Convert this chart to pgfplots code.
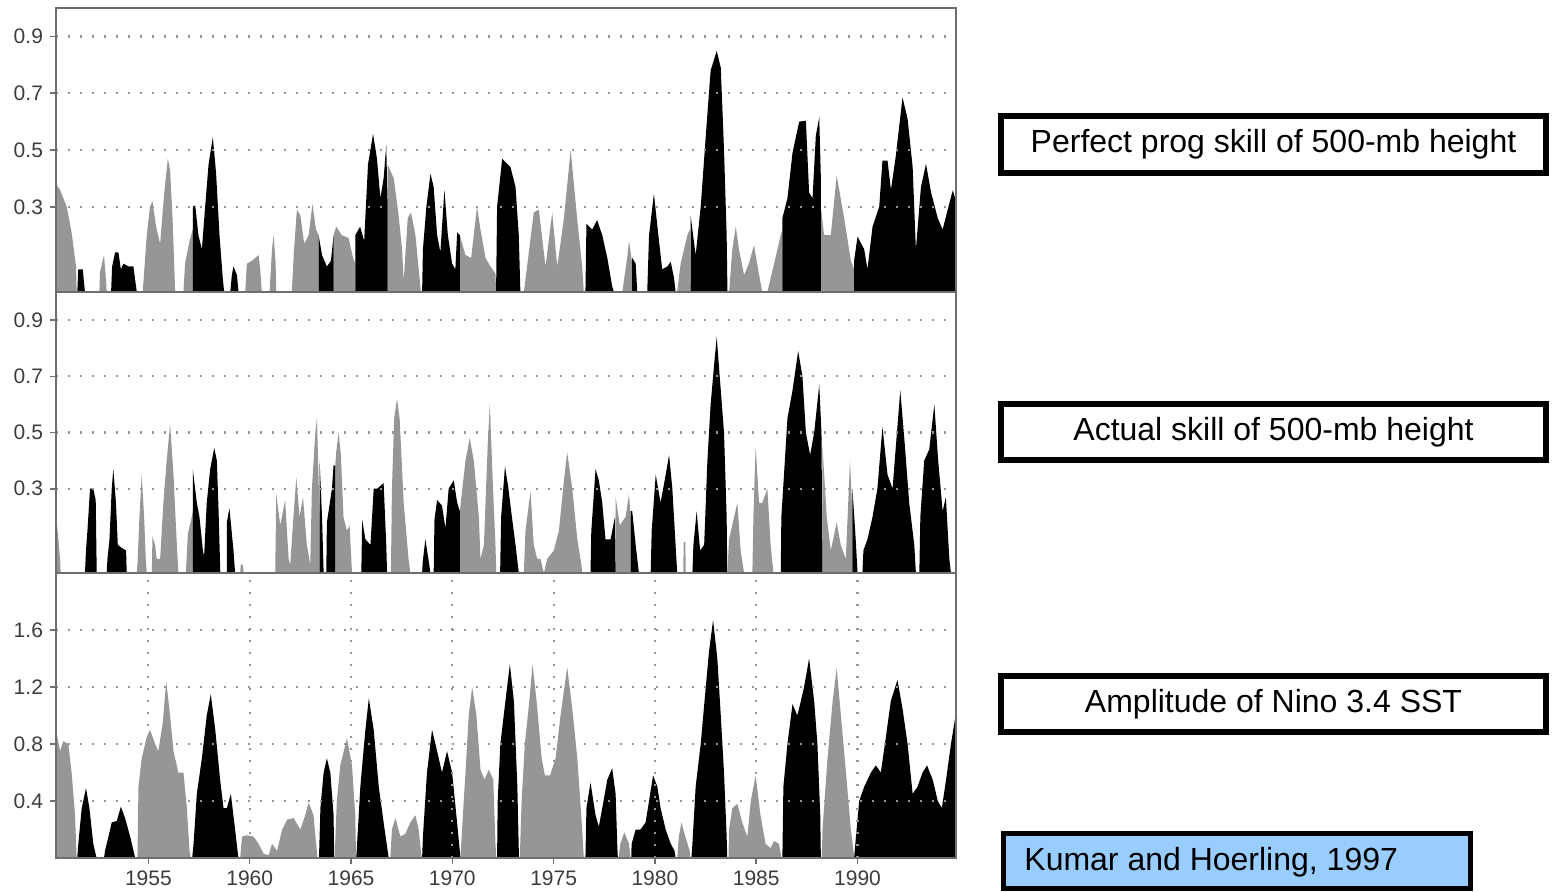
\documentclass[border=0pt]{standalone}
\usepackage{pgfplots}
\pgfplotsset{compat=1.18}
\usepackage{fontspec}
\setmainfont{Liberation Sans}
\definecolor{gm}{RGB}{150,150,150}
\definecolor{axc}{RGB}{110,110,110}
\definecolor{gridc}{RGB}{150,150,150}
\definecolor{tlc}{RGB}{60,60,60}
\definecolor{boxblue}{RGB}{153,204,255}
\pgfplotsset{
  panel/.style={
    scale only axis, width=450pt,
    xmin=1950.44, xmax=1994.86, ymin=0,
    axis on top=true,
    axis line style={draw=axc, line width=1pt},
    tick style={draw=axc, line width=0.8pt},
    tick align=outside, major tick length=3pt,
    ytick pos=left, xtick pos=bottom,
    ymajorgrids,
    grid style={draw=gridc, line width=1.1pt, dash pattern=on 1.1pt off 4.9pt},
    ticklabel style={font=\fontsize{10.5}{12}\selectfont, text=tlc},
    /pgf/number format/assume math mode=true,
  },
  top panel/.style={panel, xtick=\empty, ymax=1.0,
    ytick={0.3,0.5,0.7,0.9}, yticklabels={0.3,0.5,0.7,0.9}},
  gfill/.style={draw=none, fill=gm},
  bfill/.style={draw=none, fill=black},
}
\begin{document}
\begin{tikzpicture}
\path[use as bounding box] (0,0) rectangle (776pt,-445.5pt);

% ---------------- Top panel: perfect prog skill ----------------
\begin{axis}[top panel, at={(28pt,-146pt)}, anchor=south west, height=142pt]
\addplot[gfill] coordinates {
(1950.44,0.38)(1950.64,0.36)(1950.97,0.30)(1951.21,0.21)(1951.43,0.09)(1951.46,0)
(1952.58,0)(1952.61,0.07)(1952.81,0.13)(1952.91,0.04)(1952.94,0)
(1954.72,0)(1954.92,0.20)(1955.08,0.30)(1955.20,0.32)(1955.38,0.23)(1955.58,0.17)(1955.77,0.34)(1955.96,0.47)(1956.07,0.43)(1956.20,0.25)(1956.32,0)
(1956.73,0)(1956.81,0.10)(1957.03,0.18)(1957.19,0.22)(1957.19,0)
(1959.78,0)(1959.86,0.10)(1960.11,0.11)(1960.44,0.13)(1960.52,0.08)(1960.60,0)
(1960.98,0)(1961.10,0.15)(1961.18,0.20)(1961.28,0.10)(1961.31,0)
(1962.08,0)(1962.17,0.13)(1962.33,0.29)(1962.50,0.27)(1962.69,0.17)(1962.91,0.20)(1963.10,0.31)(1963.27,0.22)(1963.40,0.20)(1963.40,0)
(1964.14,0)(1964.14,0.20)(1964.27,0.23)(1964.55,0.20)(1964.88,0.19)(1965.10,0.12)(1965.21,0.10)(1965.21,0)
(1966.81,0)(1966.81,0.45)(1966.86,0.44)(1967.11,0.40)(1967.35,0.27)(1967.52,0.15)(1967.60,0.04)(1967.80,0.26)(1967.96,0.28)(1968.18,0.20)(1968.34,0.08)(1968.45,0)
(1970.37,0)(1970.37,0.20)(1970.65,0.13)(1970.93,0.12)(1971.22,0.30)(1971.39,0.22)(1971.64,0.12)(1971.88,0.09)(1972.13,0.065)(1972.16,0)
(1973.53,0)(1973.69,0.09)(1974.02,0.28)(1974.27,0.29)(1974.60,0.09)(1974.93,0.28)(1975.18,0.09)(1975.51,0.26)(1975.84,0.50)(1976.16,0.26)(1976.41,0.09)(1976.49,0)
(1978.39,0)(1978.63,0.12)(1978.72,0.18)(1978.88,0.10)(1978.88,0)
(1981.10,0)(1981.27,0.10)(1981.60,0.20)(1981.73,0.22)(1981.76,0)
(1983.66,0)(1983.82,0.15)(1983.99,0.23)(1984.15,0.15)(1984.40,0.06)(1984.64,0.10)(1984.89,0.165)(1985.14,0.06)(1985.30,0)
(1985.55,0)(1985.88,0.10)(1986.21,0.20)(1986.29,0.22)(1986.29,0)
(1988.19,0)(1988.19,0.30)(1988.35,0.20)(1988.68,0.20)(1988.97,0.41)(1989.34,0.26)(1989.67,0.11)(1989.83,0.08)(1989.83,0)
} \closedcycle;
\addplot[bfill] coordinates {
(1951.49,0)(1951.54,0.08)(1951.76,0.08)(1951.87,0)
(1953.16,0)(1953.21,0.09)(1953.36,0.14)(1953.52,0.14)(1953.64,0.08)(1953.77,0.10)(1954.01,0.09)(1954.26,0.09)(1954.39,0.02)(1954.43,0)
(1957.19,0)(1957.19,0.30)(1957.31,0.305)(1957.47,0.20)(1957.64,0.15)(1957.80,0.30)(1957.97,0.45)(1958.18,0.545)(1958.34,0.42)(1958.51,0.20)(1958.67,0.05)(1958.74,0)
(1959.04,0)(1959.12,0.06)(1959.20,0.09)(1959.37,0.06)(1959.45,0)
(1963.40,0)(1963.40,0.20)(1963.57,0.13)(1963.81,0.09)(1964.01,0.11)(1964.14,0.20)(1964.14,0)
(1965.21,0)(1965.21,0.20)(1965.45,0.23)(1965.65,0.18)(1965.84,0.45)(1966.09,0.557)(1966.28,0.47)(1966.45,0.33)(1966.61,0.40)(1966.74,0.516)(1966.81,0.30)(1966.81,0)
(1968.51,0)(1968.55,0.15)(1968.72,0.30)(1968.92,0.416)(1969.08,0.37)(1969.25,0.20)(1969.41,0.14)(1969.61,0.36)(1969.78,0.20)(1969.99,0.10)(1970.15,0.08)(1970.24,0.21)(1970.37,0.20)(1970.37,0)
(1972.16,0)(1972.21,0.30)(1972.46,0.469)(1972.87,0.44)(1973.12,0.37)(1973.28,0.20)(1973.36,0)
(1976.57,0)(1976.62,0.24)(1976.90,0.22)(1977.15,0.253)(1977.40,0.20)(1977.65,0.12)(1977.89,0.02)(1977.98,0)
(1978.88,0)(1978.88,0.12)(1979.05,0.10)(1979.13,0)
(1979.62,0)(1979.71,0.20)(1979.95,0.346)(1980.20,0.18)(1980.36,0.08)(1980.61,0.09)(1980.78,0.106)(1980.94,0.05)(1981.02,0)
(1981.76,0)(1981.76,0.27)(1982.01,0.13)(1982.26,0.30)(1982.51,0.55)(1982.75,0.78)(1983.05,0.849)(1983.25,0.79)(1983.41,0.50)(1983.54,0.20)(1983.58,0)
(1986.29,0)(1986.29,0.26)(1986.54,0.33)(1986.79,0.49)(1987.12,0.60)(1987.45,0.603)(1987.61,0.35)(1987.78,0.33)(1987.94,0.55)(1988.11,0.615)(1988.19,0.40)(1988.19,0)
(1989.83,0)(1989.83,0.11)(1990.00,0.195)(1990.33,0.15)(1990.49,0.08)(1990.74,0.23)(1991.07,0.30)(1991.23,0.463)(1991.48,0.463)(1991.65,0.36)(1991.89,0.48)(1992.22,0.685)(1992.47,0.61)(1992.72,0.44)(1992.88,0.15)(1993.13,0.37)(1993.38,0.451)(1993.63,0.35)(1993.96,0.26)(1994.20,0.22)(1994.45,0.29)(1994.70,0.358)(1994.86,0.32)
} \closedcycle;
\end{axis}

% ---------------- Middle panel: actual skill ----------------
\begin{axis}[top panel, at={(28pt,-286.5pt)}, anchor=south west, height=140.5pt]
\addplot[gfill] coordinates {
(1950.44,0.21)(1950.56,0.12)(1950.64,0.05)(1950.67,0)
(1954.42,0)(1954.46,0.03)(1954.56,0.20)(1954.67,0.35)(1954.79,0.20)(1954.87,0.05)(1954.92,0)
(1955.17,0)(1955.20,0.13)(1955.33,0.10)(1955.41,0.05)(1955.58,0.05)(1955.74,0.25)(1955.88,0.38)(1956.07,0.53)(1956.24,0.35)(1956.37,0.15)(1956.48,0)
(1956.85,0)(1956.95,0.14)(1957.14,0.20)(1957.19,0.22)(1957.19,0)
(1959.53,0)(1959.56,0.03)(1959.66,0.03)(1959.70,0)
(1961.26,0)(1961.31,0.28)(1961.51,0.17)(1961.75,0.26)(1961.92,0.05)(1962.00,0.03)(1962.13,0.17)(1962.30,0.34)(1962.46,0.20)(1962.63,0.27)(1962.82,0.10)(1962.99,0.03)(1963.07,0.30)(1963.24,0.50)(1963.32,0.55)(1963.45,0.20)(1963.45,0)
(1964.22,0)(1964.22,0.38)(1964.27,0.43)(1964.39,0.50)(1964.50,0.42)(1964.63,0.20)(1964.80,0.15)(1964.93,0.17)(1965.05,0)
(1966.97,0)(1967.02,0.30)(1967.13,0.55)(1967.27,0.62)(1967.40,0.55)(1967.60,0.25)(1967.84,0.05)(1967.93,0)
(1970.37,0)(1970.37,0.22)(1970.65,0.40)(1970.86,0.48)(1971.06,0.40)(1971.31,0.20)(1971.39,0.05)(1971.56,0.10)(1971.75,0.46)(1971.85,0.60)(1972.01,0.30)(1972.13,0.10)(1972.17,0)
(1973.53,0)(1973.61,0.15)(1973.86,0.29)(1974.02,0.10)(1974.19,0.05)(1974.35,0.05)(1974.52,0)(1974.68,0.05)(1975.01,0.08)(1975.26,0.15)(1975.51,0.33)(1975.67,0.43)(1975.92,0.30)(1976.17,0.12)(1976.37,0.03)(1976.41,0)
(1978.06,0)(1978.06,0.27)(1978.27,0.17)(1978.55,0.20)(1978.72,0.28)(1978.80,0.20)(1978.80,0)
(1981.40,0)(1981.42,0.11)(1981.50,0.11)(1981.52,0)
(1983.57,0)(1983.66,0.12)(1983.91,0.20)(1984.07,0.25)(1984.23,0.08)(1984.40,0)
(1984.81,0)(1984.86,0.20)(1984.97,0.45)(1985.14,0.25)(1985.30,0.25)(1985.55,0.30)(1985.71,0.10)(1985.85,0)
(1988.27,0)(1988.27,0.45)(1988.48,0.20)(1988.68,0.08)(1988.97,0.18)(1989.17,0.10)(1989.42,0.05)(1989.63,0.40)(1989.75,0.20)(1989.75,0)
} \closedcycle;
\addplot[bfill] coordinates {
(1951.87,0)(1951.92,0.08)(1952.00,0.16)(1952.12,0.30)(1952.28,0.30)(1952.40,0.26)(1952.45,0)
(1952.94,0)(1952.98,0.05)(1953.08,0.12)(1953.19,0.30)(1953.27,0.37)(1953.40,0.25)(1953.49,0.10)(1953.68,0.09)(1953.90,0.08)(1953.93,0)
(1957.19,0)(1957.19,0.37)(1957.39,0.25)(1957.52,0.20)(1957.69,0.08)(1957.75,0.06)(1957.88,0.25)(1958.05,0.37)(1958.25,0.445)(1958.38,0.40)(1958.46,0.23)(1958.55,0)
(1958.87,0)(1958.87,0.18)(1959.00,0.23)(1959.20,0.08)(1959.28,0)
(1963.45,0)(1963.45,0.40)(1963.57,0.20)(1963.65,0)
(1963.78,0)(1963.81,0.18)(1964.06,0.30)(1964.14,0.385)(1964.22,0.38)(1964.22,0)
(1965.51,0)(1965.55,0.19)(1965.71,0.12)(1965.96,0.10)(1966.12,0.30)(1966.29,0.30)(1966.45,0.31)(1966.61,0.32)(1966.74,0.10)(1966.78,0)
(1968.51,0)(1968.54,0.04)(1968.67,0.12)(1968.84,0.04)(1968.92,0)
(1969.08,0)(1969.12,0.19)(1969.25,0.26)(1969.49,0.24)(1969.66,0.16)(1969.82,0.30)(1970.07,0.33)(1970.24,0.25)(1970.37,0.22)(1970.37,0)
(1972.36,0)(1972.41,0.20)(1972.60,0.38)(1972.77,0.30)(1972.94,0.20)(1973.12,0.10)(1973.28,0)
(1976.82,0)(1976.86,0.15)(1977.07,0.37)(1977.23,0.33)(1977.40,0.25)(1977.56,0.12)(1977.81,0.12)(1978.03,0.20)(1978.06,0)
(1978.80,0)(1978.80,0.22)(1978.88,0.22)(1979.05,0.10)(1979.21,0)
(1979.79,0)(1979.84,0.15)(1980.04,0.35)(1980.28,0.25)(1980.53,0.35)(1980.70,0.42)(1980.86,0.30)(1981.02,0.10)(1981.10,0)
(1981.85,0)(1981.90,0.10)(1982.06,0.22)(1982.23,0.08)(1982.43,0.10)(1982.59,0.40)(1982.75,0.60)(1982.92,0.74)(1983.05,0.84)(1983.25,0.65)(1983.41,0.50)(1983.54,0.20)(1983.57,0)
(1986.21,0)(1986.24,0.20)(1986.37,0.35)(1986.54,0.55)(1986.79,0.65)(1987.07,0.79)(1987.28,0.70)(1987.45,0.50)(1987.66,0.42)(1987.86,0.50)(1988.11,0.67)(1988.22,0.50)(1988.27,0)
(1989.75,0)(1989.75,0.30)(1989.91,0.12)(1990.00,0)
(1990.24,0)(1990.29,0.08)(1990.49,0.12)(1990.74,0.20)(1990.98,0.30)(1991.23,0.52)(1991.48,0.35)(1991.73,0.30)(1991.89,0.45)(1992.11,0.65)(1992.34,0.45)(1992.55,0.25)(1992.80,0.10)(1992.88,0)
(1993.05,0)(1993.10,0.20)(1993.29,0.40)(1993.54,0.44)(1993.79,0.60)(1993.98,0.40)(1994.20,0.22)(1994.36,0.27)(1994.53,0.05)(1994.61,0)
} \closedcycle;
\end{axis}

% ---------------- Bottom panel: Nino 3.4 amplitude ----------------
\begin{axis}[panel, at={(28pt,-429pt)}, anchor=south west, height=142.5pt,
  ymax=2.0, ytick={0.4,0.8,1.2,1.6}, yticklabels={0.4,0.8,1.2,1.6},
  xtick={1955,1960,1965,1970,1975,1980,1985,1990},
  xticklabels={1955,1960,1965,1970,1975,1980,1985,1990},
  xmajorgrids]
\addplot[gfill] coordinates {
(1950.44,0.90)(1950.64,0.75)(1950.80,0.82)(1951.05,0.80)(1951.21,0.60)(1951.38,0.30)(1951.46,0)
(1954.46,0)(1954.51,0.50)(1954.67,0.70)(1954.92,0.85)(1955.08,0.90)(1955.33,0.80)(1955.49,0.75)(1955.71,0.95)(1955.88,1.24)(1956.07,1.00)(1956.24,0.75)(1956.48,0.60)(1956.73,0.60)(1956.90,0.35)(1957.03,0.05)(1957.10,0)
(1959.53,0)(1959.62,0.15)(1959.86,0.16)(1960.19,0.15)(1960.44,0.10)(1960.69,0.03)(1960.94,0.02)(1961.10,0.10)(1961.35,0.05)(1961.60,0.20)(1961.85,0.27)(1962.17,0.28)(1962.50,0.20)(1962.74,0.30)(1962.91,0.39)(1963.15,0.30)(1963.28,0.10)(1963.35,0)
(1964.19,0)(1964.30,0.40)(1964.47,0.65)(1964.80,0.84)(1965.05,0.65)(1965.21,0.30)(1965.25,0)
(1966.94,0)(1967.02,0.20)(1967.19,0.28)(1967.44,0.15)(1967.68,0.17)(1967.93,0.25)(1968.18,0.30)(1968.34,0.20)(1968.45,0.05)(1968.49,0)
(1970.40,0)(1970.48,0.20)(1970.65,0.60)(1970.81,1.00)(1970.98,1.20)(1971.19,1.00)(1971.39,0.62)(1971.59,0.55)(1971.80,0.62)(1972.02,0.55)(1972.13,0.10)(1972.17,0)
(1973.33,0)(1973.42,0.40)(1973.58,0.80)(1973.80,1.10)(1973.96,1.36)(1974.16,1.10)(1974.41,0.70)(1974.57,0.58)(1974.82,0.58)(1975.10,0.70)(1975.34,1.00)(1975.67,1.34)(1975.92,1.05)(1976.17,0.70)(1976.41,0.20)(1976.49,0)
(1978.21,0)(1978.29,0.10)(1978.49,0.18)(1978.72,0.10)(1978.80,0)
(1981.10,0)(1981.18,0.15)(1981.31,0.25)(1981.50,0.15)(1981.72,0.05)(1981.75,0)
(1983.63,0)(1983.66,0.20)(1983.82,0.35)(1984.07,0.38)(1984.31,0.25)(1984.56,0.15)(1984.73,0.40)(1984.97,0.58)(1985.21,0.30)(1985.46,0.10)(1985.71,0.07)(1985.88,0.12)(1986.12,0.10)(1986.24,0)
(1988.24,0)(1988.27,0.20)(1988.52,0.70)(1988.77,1.10)(1988.97,1.33)(1989.18,1.00)(1989.43,0.60)(1989.67,0.20)(1989.80,0.05)(1989.83,0)
} \closedcycle;
\addplot[bfill] coordinates {
(1951.49,0)(1951.54,0.10)(1951.71,0.35)(1951.92,0.49)(1952.09,0.35)(1952.28,0.10)(1952.41,0.02)(1952.45,0)
(1952.81,0)(1952.86,0.05)(1953.03,0.15)(1953.19,0.25)(1953.44,0.26)(1953.64,0.36)(1953.85,0.28)(1954.10,0.15)(1954.30,0.03)(1954.35,0)
(1957.16,0)(1957.23,0.10)(1957.39,0.45)(1957.64,0.70)(1957.88,1.00)(1958.08,1.15)(1958.30,0.90)(1958.54,0.55)(1958.71,0.35)(1958.87,0.35)(1959.07,0.45)(1959.28,0.20)(1959.40,0.05)(1959.45,0)
(1963.42,0)(1963.49,0.35)(1963.65,0.60)(1963.81,0.70)(1963.98,0.60)(1964.14,0.30)(1964.17,0)
(1965.26,0)(1965.30,0.10)(1965.46,0.50)(1965.71,0.90)(1965.88,1.12)(1966.12,0.90)(1966.37,0.50)(1966.61,0.25)(1966.81,0.05)(1966.86,0)
(1968.51,0)(1968.55,0.15)(1968.75,0.60)(1969.00,0.90)(1969.25,0.75)(1969.49,0.60)(1969.74,0.75)(1969.99,0.60)(1970.20,0.30)(1970.37,0.05)(1970.40,0)
(1972.21,0)(1972.24,0.40)(1972.37,0.80)(1972.62,1.10)(1972.84,1.36)(1973.04,1.10)(1973.21,0.50)(1973.29,0)
(1976.57,0)(1976.62,0.35)(1976.82,0.53)(1977.07,0.30)(1977.23,0.22)(1977.40,0.35)(1977.65,0.55)(1977.89,0.63)(1978.06,0.45)(1978.14,0.10)(1978.17,0)
(1978.83,0)(1978.85,0.10)(1979.05,0.20)(1979.29,0.20)(1979.54,0.25)(1979.71,0.40)(1979.91,0.58)(1980.12,0.50)(1980.28,0.35)(1980.53,0.20)(1980.78,0.10)(1980.97,0.05)(1981.02,0)
(1981.80,0)(1981.85,0.10)(1982.01,0.50)(1982.26,0.80)(1982.51,1.20)(1982.67,1.45)(1982.87,1.67)(1983.08,1.40)(1983.25,1.00)(1983.41,0.60)(1983.54,0.15)(1983.57,0)
(1986.29,0)(1986.34,0.50)(1986.54,0.80)(1986.79,1.08)(1987.03,1.00)(1987.20,1.10)(1987.36,1.20)(1987.61,1.40)(1987.86,1.10)(1988.02,0.80)(1988.16,0.30)(1988.19,0)
(1989.83,0)(1989.86,0.05)(1990.08,0.40)(1990.33,0.50)(1990.66,0.60)(1990.90,0.65)(1991.15,0.60)(1991.40,0.85)(1991.64,1.10)(1991.97,1.25)(1992.22,1.05)(1992.47,0.80)(1992.72,0.45)(1992.96,0.50)(1993.21,0.60)(1993.43,0.65)(1993.71,0.55)(1993.96,0.40)(1994.16,0.35)(1994.37,0.55)(1994.61,0.80)(1994.86,1.02)
} \closedcycle;
\end{axis}

% ---------------- Labels on the right ----------------
\draw[line width=3pt] (500.5pt,-58pt) rectangle (773pt,-86.5pt);
\node[font=\fontsize{16}{19}\selectfont] at (636.75pt,-72.25pt) {Perfect prog skill of 500-mb height};
\draw[line width=3pt] (500.5pt,-202pt) rectangle (773pt,-230pt);
\node[font=\fontsize{16}{19}\selectfont] at (636.75pt,-216pt) {Actual skill of 500-mb height};
\draw[line width=3pt] (500.5pt,-338pt) rectangle (773pt,-366pt);
\node[font=\fontsize{16}{19}\selectfont] at (636.75pt,-352pt) {Amplitude of Nino 3.4 SST};
\draw[line width=2.5pt, fill=boxblue] (501.75pt,-416.75pt) rectangle (735.25pt,-444.25pt);
\node[font=\fontsize{16}{19}\selectfont, anchor=west, inner sep=0pt] at (512pt,-431pt) {Kumar and Hoerling, 1997};
\end{tikzpicture}
\end{document}
